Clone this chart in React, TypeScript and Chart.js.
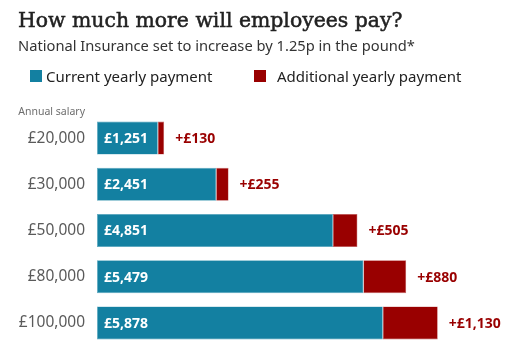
import React, { useEffect, useRef } from "react";
import { Chart, registerables } from "chart.js";

Chart.register(...registerables);

const categories = ["£20,000", "£30,000", "£50,000", "£80,000", "£100,000"];
const currentPayment = [1251, 2451, 4851, 5479, 5878];
const additionalPayment = [130, 255, 505, 880, 1130];
const seriesNames = ["Current yearly payment", "Additional yearly payment"];
const seriesColors = ["#1380A1", "#990000"];

const titleText = "How much more will employees pay?";
const subtitleText = "National Insurance set to increase by 1.25p in the pound*";
const axisNote = "Annual salary";

const SANS = "'Noto Sans', 'Open Sans', sans-serif";
const SERIF = "'DejaVu Serif', 'Liberation Serif', serif";

const fmt = (v: number) => "£" + v.toLocaleString("en-GB");

const headerPlugin = {
  id: "header",
  afterDraw(chart: any) {
    const ctx = chart.ctx as CanvasRenderingContext2D;
    ctx.save();
    ctx.textBaseline = "alphabetic";
    ctx.textAlign = "left";
    // title
    ctx.fillStyle = "#222222";
    ctx.strokeStyle = "#222222";
    ctx.lineWidth = 0.5;
    ctx.font = `20.4px ${SERIF}`;
    ctx.fillText(titleText, 18, 27);
    ctx.strokeText(titleText, 18, 27);
    // subtitle
    ctx.fillStyle = "#333333";
    ctx.font = `14.7px ${SANS}`;
    ctx.fillText(subtitleText, 18, 51);
    // legend
    const items = [
      { box: 30, text: 46 },
      { box: 254, text: 277 },
    ];
    ctx.font = `15px ${SANS}`;
    items.forEach((it, i) => {
      ctx.fillStyle = seriesColors[i];
      ctx.fillRect(it.box, 70, 12, 12);
      ctx.fillStyle = "#222222";
      ctx.fillText(seriesNames[i], it.text, 82);
    });
    // axis note
    ctx.fillStyle = "#6e6e6e";
    ctx.font = `10.5px ${SANS}`;
    ctx.textAlign = "right";
    ctx.fillText(axisNote, chart.chartArea.left - 12, 115);
    ctx.restore();
  },
};

const barLabelPlugin = {
  id: "barLabels",
  afterDatasetsDraw(chart: any) {
    const ctx = chart.ctx as CanvasRenderingContext2D;
    ctx.save();
    ctx.textBaseline = "middle";
    ctx.textAlign = "left";
    ctx.font = `bold 14px ${SANS}`;
    const m0 = chart.getDatasetMeta(0);
    const m1 = chart.getDatasetMeta(1);
    m0.data.forEach((bar: any, i: number) => {
      ctx.fillStyle = "#ffffff";
      ctx.fillText(fmt(currentPayment[i]), bar.base + 7, bar.y + 1);
    });
    m1.data.forEach((bar: any, i: number) => {
      ctx.fillStyle = "#990000";
      ctx.fillText("+" + fmt(additionalPayment[i]), bar.x + 11, bar.y + 1);
    });
    ctx.restore();
  },
};

export default function App() {
  const ref = useRef<HTMLCanvasElement>(null);
  useEffect(() => {
    if (!ref.current) return;
    const chart = new Chart(ref.current, {
      type: "bar",
      data: {
        labels: categories,
        datasets: [
          {
            label: seriesNames[0],
            data: currentPayment,
            backgroundColor: seriesColors[0],
            borderColor: "#5ea9c0",
            borderWidth: 0.6,
            borderSkipped: false,
            barPercentage: 0.714,
            categoryPercentage: 1,
          },
          {
            label: seriesNames[1],
            data: additionalPayment,
            backgroundColor: seriesColors[1],
            borderColor: "#c46464",
            borderWidth: 0.6,
            borderSkipped: false,
            barPercentage: 0.714,
            categoryPercentage: 1,
          },
        ],
      },
      options: {
        indexAxis: "y",
        responsive: false,
        animation: false,
        layout: { padding: { left: 0, right: 31, top: 115, bottom: 12 } },
        plugins: {
          legend: { display: false },
          title: { display: false },
          tooltip: { enabled: false },
        },
        scales: {
          x: { stacked: true, display: false, min: 0, max: 8000 },
          y: {
            stacked: true,
            grid: { display: false, drawTicks: false },
            border: { display: false },
            ticks: {
              color: "#5a5a5a",
              font: { family: SANS, size: 15.5 },
              padding: 12,
            },
            afterFit: (scale: any) => {
              scale.width = 97;
              scale.paddingTop = 0;
              scale.paddingBottom = 0;
            },
          },
        },
      },
      plugins: [headerPlugin, barLabelPlugin],
    });
    return () => chart.destroy();
  }, []);
  return (
    <div style={{ position: "fixed", left: 0, top: 0, width: 517, height: 358, background: "#fff" }}>
      <canvas ref={ref} width={517} height={358} />
    </div>
  );
}
